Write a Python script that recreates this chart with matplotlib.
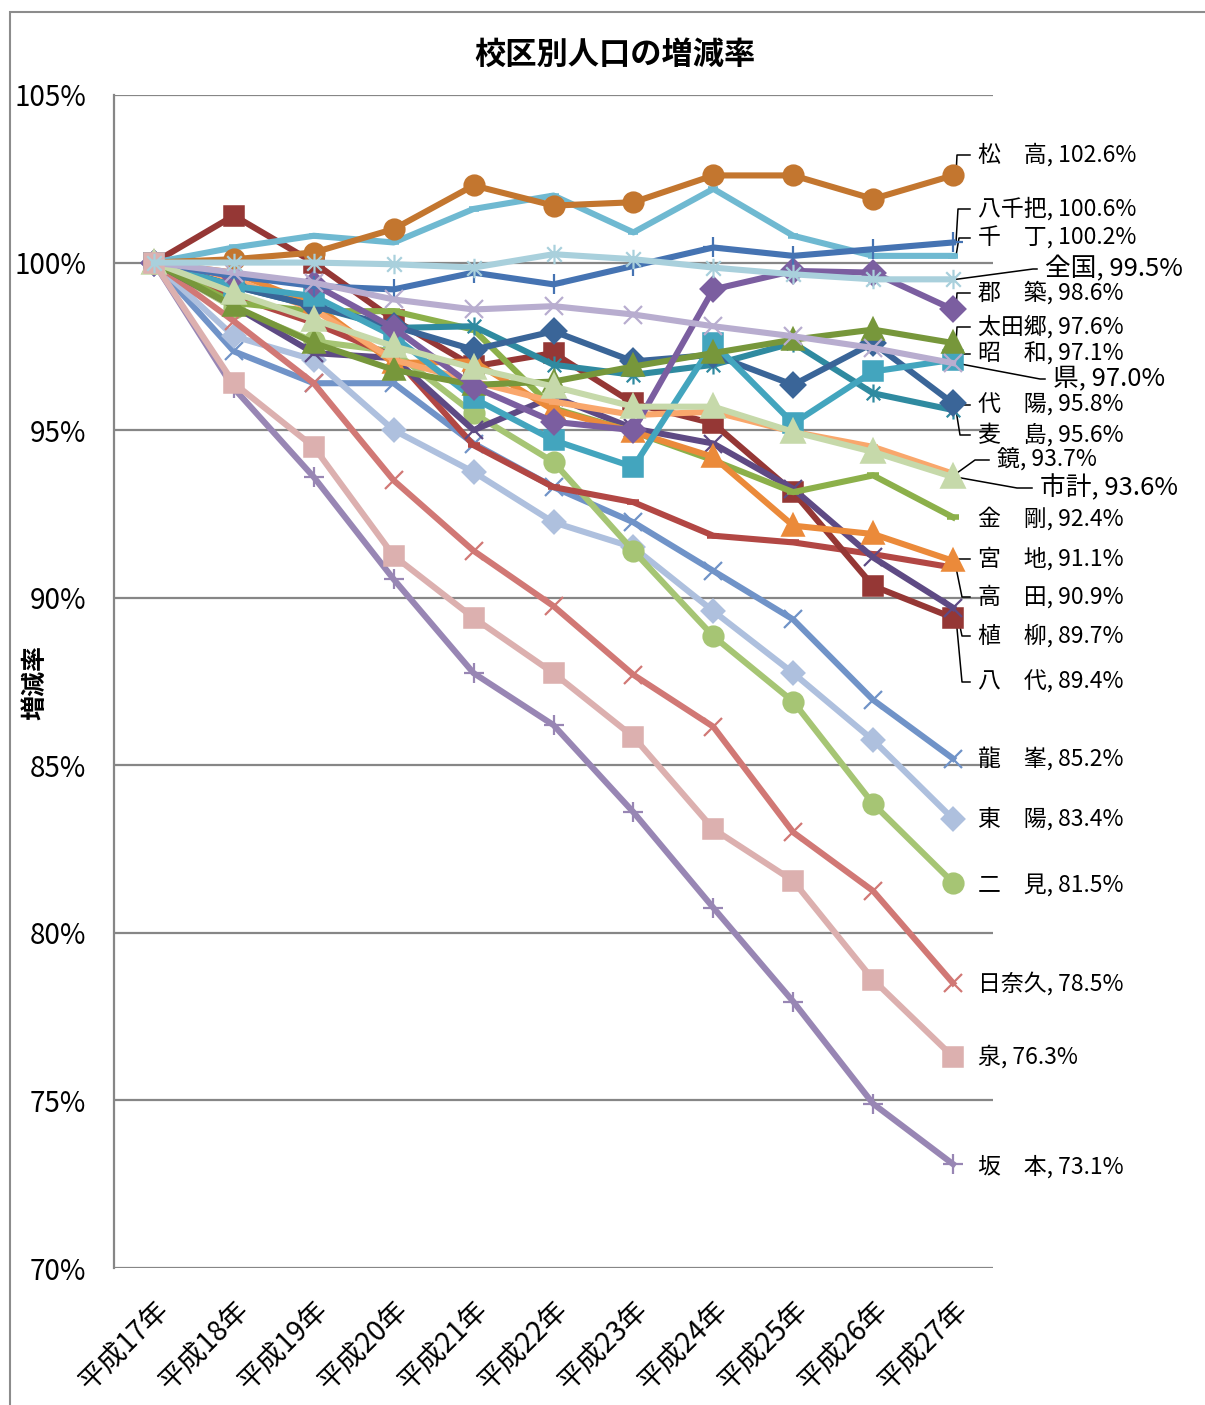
import matplotlib
matplotlib.use('Agg')
import matplotlib.pyplot as plt
from matplotlib.path import Path
from matplotlib.patches import Rectangle

plt.rcParams['font.family'] = ['Noto Sans CJK JP', 'DejaVu Sans']

# ---------------- data ----------------
years = ['平成17年', '平成18年', '平成19年', '平成20年', '平成21年', '平成22年',
         '平成23年', '平成24年', '平成25年', '平成26年', '平成27年']

matsutaka = [100.0, 100.1, 100.3, 101.0, 102.3, 101.7, 101.8, 102.6, 102.6, 101.9, 102.6]
yachiwa   = [100.0, 99.6, 99.3, 99.2, 99.7, 99.35, 99.9, 100.45, 100.2, 100.4, 100.6]
sencho    = [100.0, 100.45, 100.8, 100.6, 101.6, 102.0, 100.9, 102.2, 100.8, 100.2, 100.2]
zenkoku   = [100.0, 100.0, 100.0, 99.95, 99.85, 100.25, 100.1, 99.85, 99.65, 99.5, 99.5]
gunchiku  = [100.0, 99.6, 99.35, 98.05, 96.3, 95.25, 95.0, 99.2, 99.75, 99.7, 98.6]
otago     = [100.0, 98.7, 97.6, 96.8, 96.35, 96.45, 96.9, 97.3, 97.7, 98.0, 97.6]
showa     = [100.0, 99.3, 99.0, 97.8, 95.95, 94.7, 93.9, 97.6, 95.2, 96.75, 97.1]
ken       = [100.0, 99.7, 99.4, 98.9, 98.6, 98.7, 98.45, 98.1, 97.8, 97.45, 97.0]
daiyo     = [100.0, 99.3, 98.7, 98.1, 97.4, 97.95, 97.05, 97.25, 96.35, 97.6, 95.8]
mugishima = [100.0, 99.3, 98.7, 98.05, 98.1, 96.95, 96.65, 96.95, 97.6, 96.1, 95.6]
kagami    = [100.0, 99.5, 98.6, 97.1, 96.45, 95.85, 95.45, 95.55, 94.95, 94.5, 93.7]
shikei    = [100.0, 99.1, 98.3, 97.5, 96.85, 96.3, 95.7, 95.7, 94.95, 94.35, 93.6]
kongo     = [100.0, 98.8, 98.55, 98.55, 98.0, 95.65, 94.95, 94.1, 93.15, 93.65, 92.4]
miyaji    = [100.0, 99.7, 98.75, 97.0, 97.05, 95.6, 94.95, 94.2, 92.15, 91.9, 91.1]
takada    = [100.0, 99.0, 98.2, 97.2, 94.55, 93.3, 92.85, 91.85, 91.65, 91.3, 90.9]
yanagi    = [100.0, 98.7, 97.3, 97.15, 95.0, 96.0, 95.05, 94.6, 93.25, 91.2, 89.7]
yatsushiro = [100.0, 101.4, 100.0, 98.3, 96.9, 97.3, 95.8, 95.2, 93.15, 90.35, 89.4]
ryuho     = [100.0, 97.35, 96.4, 96.4, 94.6, 93.3, 92.25, 90.8, 89.35, 86.95, 85.2]
toyo      = [100.0, 97.8, 97.1, 95.0, 93.75, 92.25, 91.5, 89.6, 87.75, 85.75, 83.4]
futami    = [100.0, 98.65, 97.65, 97.35, 95.5, 94.05, 91.4, 88.85, 86.9, 83.85, 81.5]
hinagu    = [100.0, 98.25, 96.4, 93.5, 91.4, 89.75, 87.7, 86.15, 83.0, 81.25, 78.5]
izumi     = [100.0, 96.4, 94.5, 91.25, 89.4, 87.75, 85.85, 83.1, 81.55, 78.6, 76.3]
sakamoto  = [100.0, 96.25, 93.6, 90.55, 87.75, 86.2, 83.6, 80.75, 77.95, 74.9, 73.1]

y_ticks = [70, 75, 80, 85, 90, 95, 100, 105]

# ---------------- style ----------------
ast = Path([(0, -1), (0, 1), (-0.75, -0.75), (0.75, 0.75), (-0.75, 0.75), (0.75, -0.75)],
           [Path.MOVETO, Path.LINETO, Path.MOVETO, Path.LINETO, Path.MOVETO, Path.LINETO])

# (label, data, color, marker, markersize)
series = [
    ('龍　峯', ryuho, '#7093C8', 'x', 13),
    ('東　陽', toyo, '#AEC0DE', 'D', 9),
    ('二　見', futami, '#A6C574', 'o', 12),
    ('日奈久', hinagu, '#D17875', 'x', 13),
    ('坂　本', sakamoto, '#9886B4', '+', 14),
    ('高　田', takada, '#B24744', '_', 8),
    ('八　代', yatsushiro, '#953735', 's', 11),
    ('植　柳', yanagi, '#5E4A84', 'x', 13),
    ('金　剛', kongo, '#8CB04A', '_', 9),
    ('宮　地', miyaji, '#EB8A3A', '^', 12),
    ('鏡', kagami, '#F9A76C', '_', 7),
    ('麦　島', mugishima, '#2F8AA0', ast, 13),
    ('代　陽', daiyo, '#3A6598', 'D', 10),
    ('昭　和', showa, '#43A5BE', 's', 11),
    ('太田郷', otago, '#77973B', '^', 12),
    ('郡　築', gunchiku, '#7B5EA0', 'D', 10),
    ('千　丁', sencho, '#6FB9D1', '_', 7),
    ('八千把', yachiwa, '#4573B2', '+', 14),
    ('松　高', matsutaka, '#C3762F', 'o', 12),
    ('市計', shikei, '#C6D9AA', '^', 13),
    ('県', ken, '#B8ADCF', 'x', 13),
    ('泉', izumi, '#DCB0AF', 's', 12),
    ('全国', zenkoku, '#A9D0DC', ast, 14),
]

# label layout in pixels: name -> (text_x, text_y, fontsize, bend_x or None)
S, L = 16.5, 18.5
label_layout = {
    '松　高': (978, 155, S, 957),
    '八千把': (978, 209, S, 958),
    '千　丁': (978, 238, S, 959),
    '全国': (1045, 269, L, 1033),
    '郡　築': (978, 293, S, 957),
    '太田郷': (978, 327, S, 957),
    '昭　和': (978, 354, S, 957),
    '県': (1053, 379, L, 1040),
    '代　陽': (978, 405, S, 957),
    '麦　島': (978, 435, S, 960),
    '鏡': (997, 460, S, 975),
    '市計': (1040, 488, L, 1017),
    '金　剛': (978, 519, S, None),
    '宮　地': (978, 559, S, 957),
    '高　田': (978, 597, S, 962),
    '植　柳': (978, 636, S, 962),
    '八　代': (978, 682, S, 962),
    '龍　峯': (978, 759, S, None),
    '東　陽': (978, 819, S, None),
    '二　見': (978, 885, S, None),
    '日奈久': (978, 984, S, None),
    '泉': (978, 1057, S, None),
    '坂　本': (978, 1167, S, None),
}

W, H = 1205, 1405
fig = plt.figure(figsize=(W / 100, H / 100), dpi=100)
ax = fig.add_axes([114 / W, 1 - 1268 / H, (993 - 114) / W, (1268 - 95) / H])

x = list(range(len(years)))
for name, vals, col, mk, ms in series:
    mew = 1.6 if mk in ('x', '+') or mk is ast else 4
    ax.plot(x, vals, color=col, lw=4.4, marker=mk, ms=ms, mfc=col, mec=col,
            mew=mew, solid_joinstyle='round', zorder=3)

ax.set_xlim(-0.5, len(years) - 0.5)
ax.set_ylim(70, 105)
ax.set_yticks(y_ticks)
ax.set_yticklabels([f'{v}%' for v in y_ticks], fontsize=20)
ax.set_xticks(x)
ax.set_xticklabels(years, fontsize=20, rotation=45, ha='right', va='top',
                   rotation_mode='anchor')
ax.tick_params(length=0)
ax.tick_params(axis='y', pad=20)
ax.tick_params(axis='x', pad=20)
ax.grid(axis='y', color='#868686', lw=1.6)
ax.set_axisbelow(True)
for s in ['top', 'right', 'bottom']:
    ax.spines[s].set_visible(False)
ax.spines['left'].set_color('#868686')
ax.spines['left'].set_linewidth(1.6)

fig.canvas.draw()
inv = ax.transData.inverted()


def px2data(px, py):
    return inv.transform((px, H - py))


data_by_name = {s[0]: s[1] for s in series}
for name, (tx, ty, fs, bend) in label_layout.items():
    vals = data_by_name[name]
    last = vals[-1]
    dx, dy = px2data(tx, ty)
    ax.text(dx, dy, f'{name}, {last:.1f}%', fontsize=fs, ha='left', va='center',
            clip_on=False, zorder=5)
    if bend is not None:
        bx, _ = px2data(bend, ty)
        ex, _ = px2data(tx - 8, ty)
        sx, _ = px2data(956, 0)
        ax.plot([sx, bx, ex], [last, dy, dy], color='black', lw=1.1,
                clip_on=False, zorder=2)

fig.text(615 / W, 1 - 55 / H, '校区別人口の増減率', fontsize=22.5, fontweight='bold',
         ha='center', va='center')
fig.text(35 / W, 1 - 682 / H, '増減率', fontsize=18, fontweight='bold',
         rotation=90, ha='center', va='center')

fig.add_artist(Rectangle((10 / W, -0.05), 1.1, 1 - 12 / H + 0.05, transform=fig.transFigure,
                         fill=False, edgecolor='#8c8c8c', lw=1.5))

fig.savefig('out.png', dpi=100)
